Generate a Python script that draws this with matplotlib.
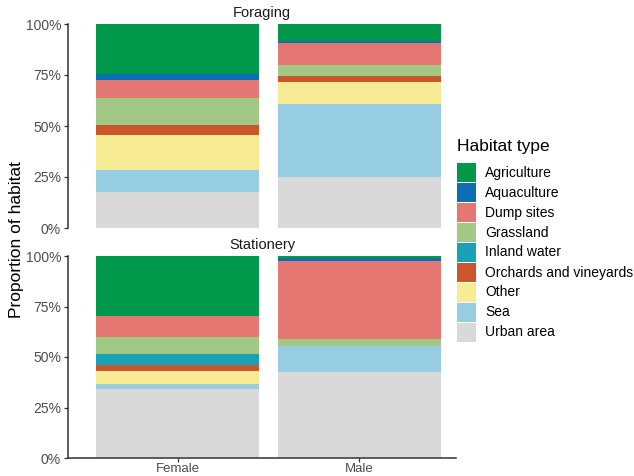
import matplotlib
matplotlib.use("Agg")
import matplotlib.pyplot as plt
from matplotlib.patches import Rectangle
import numpy as np

plt.rcParams['font.family'] = ['Liberation Sans', 'DejaVu Sans']

habitats = ["Agriculture", "Aquaculture", "Dump sites", "Grassland", "Inland water",
            "Orchards and vineyards", "Other", "Sea", "Urban area"]
colors = ["#00984B", "#0A70B3", "#E47772", "#A2C886", "#19A2B6",
          "#C9562C", "#F7EB93", "#96CDE2", "#D9D9D9"]
sexes = ["Female", "Male"]
panels = ["Foraging", "Stationery"]

foraging_female = [0.243, 0.031, 0.088, 0.132, 0.0, 0.049, 0.175, 0.106, 0.176]
foraging_male = [0.084, 0.008, 0.107, 0.055, 0.0, 0.030, 0.108, 0.357, 0.251]
stationery_female = [0.297, 0.0, 0.102, 0.085, 0.055, 0.028, 0.066, 0.025, 0.342]
stationery_male = [0.012, 0.011, 0.389, 0.036, 0.0, 0.0, 0.0, 0.124, 0.428]

data = {"Foraging": [foraging_female, foraging_male],
        "Stationery": [stationery_female, stationery_male]}

W, H = 634, 476
fig = plt.figure(figsize=(W / 100, H / 100), dpi=100)

def ax_rect(left, top, right, bottom):
    return [left / W, 1 - bottom / H, (right - left) / W, (bottom - top) / H]

axes = [fig.add_axes(ax_rect(68, 24, 456, 228)),
        fig.add_axes(ax_rect(68, 256, 456, 458))]

gray = "#4D4D4D"
x = np.arange(len(sexes))
for ax, panel in zip(axes, panels):
    vals = np.array(data[panel])  # shape (2, n_habitats)
    bottom = np.zeros(len(sexes))
    # stack from bottom: last habitat (Urban) first
    for i in range(len(habitats) - 1, -1, -1):
        ax.bar(x, vals[:, i], bottom=bottom, width=0.9, color=colors[i], linewidth=0)
        bottom += vals[:, i]
    ax.set_xlim(-0.602, 1.531)
    ax.set_ylim(0, 1)
    ax.set_yticks([0, 0.25, 0.5, 0.75, 1.0])
    ax.set_yticklabels(["0%", "25%", "50%", "75%", "100%"])
    for s in ["top", "right"]:
        ax.spines[s].set_visible(False)
    ax.spines["left"].set_color("#333333")
    ax.spines["left"].set_linewidth(1.1)
    ax.spines["bottom"].set_color("#333333")
    ax.spines["bottom"].set_linewidth(1.1)
    ax.tick_params(axis="y", colors="#333333", labelcolor=gray, labelsize=10,
                   length=3, width=0.9, pad=2)
    ax.set_title(panel, fontsize=10.5, color="#1A1A1A", pad=5)

axes[0].spines["bottom"].set_visible(False)
axes[0].set_xticks([])
axes[1].set_xticks(x)
axes[1].set_xticklabels(sexes)
axes[1].tick_params(axis="x", colors="#333333", labelcolor=gray, labelsize=9.5,
                    length=3, width=0.9, pad=0.5)

fig.text(17 / W, 1 - 240 / H, "Proportion of habitat", rotation=90,
         fontsize=12.5, ha="center", va="center", color="black")

# Legend (drawn in figure pixel coordinates)
fig.text(457 / W, 1 - 147 / H, "Habitat type", fontsize=12.5,
         ha="left", va="center", color="black")
key_left, key_w, key_h, row0, step = 457, 19, 19, 163, 20
for i, (h, c) in enumerate(zip(habitats, colors)):
    top = row0 + step * i
    fig.add_artist(Rectangle((key_left / W, 1 - (top + key_h) / H), key_w / W, key_h / H,
                             transform=fig.transFigure, facecolor=c, edgecolor="none"))
    fig.text(485 / W, 1 - (top + key_h / 2) / H, h, fontsize=10,
             ha="left", va="center", color="black")

fig.savefig("out.png", dpi=100)
